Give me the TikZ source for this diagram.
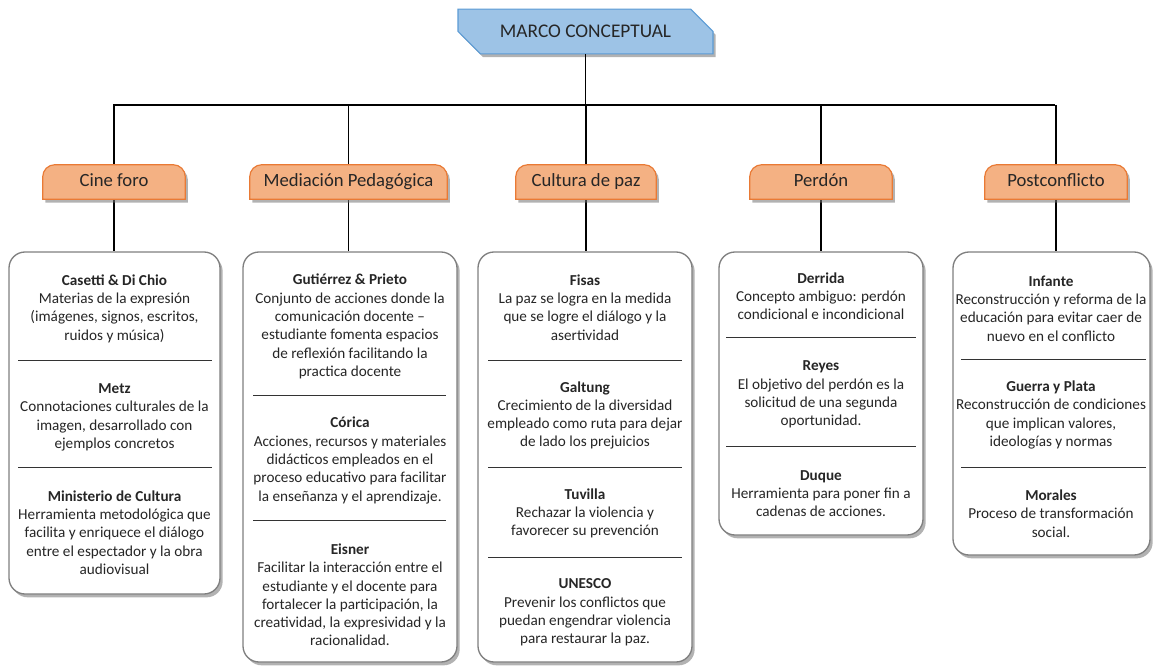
\documentclass[tikz,border=0pt]{standalone}
\usepackage{fontspec}
\setmainfont{Carlito}
\usetikzlibrary{shapes.misc,shadows,fit}
\definecolor{titlefill}{HTML}{9DC3E6}
\definecolor{titledraw}{HTML}{5B9BD5}
\definecolor{catfill}{HTML}{F4B183}
\definecolor{catdraw}{HTML}{E97A35}
\definecolor{boxdraw}{HTML}{7F7F7F}
\definecolor{txt}{HTML}{262626}
% tab outline: rounded top corners, square bottom
\newcommand\tabpath[1]{(#1.south west) -- ([yshift=-9pt]#1.north west)
  arc[start angle=180,end angle=90,radius=9pt] -- ([xshift=-9pt]#1.north east)
  arc[start angle=90,end angle=0,radius=9pt] -- (#1.south east) -- cycle}
\begin{document}
\begin{tikzpicture}[x=0.75pt,y=-0.75pt,
  shade/.style={drop shadow={shadow xshift=2pt,shadow yshift=-2.5pt,fill=black!55,opacity=0.55}},
  titlebox/.style={chamfered rectangle, chamfered rectangle corners={north east,south west},
    chamfered rectangle xsep=9pt, chamfered rectangle ysep=12pt,
    fill=titlefill, draw=titledraw, line width=0.8pt, text=txt, inner sep=0pt,
    font=\fontsize{14.5}{16}\selectfont, shade},
  tab/.style={inner sep=0pt, text=txt, font=\fontsize{14}{16}\selectfont},
  tablabel/.style={tab, text height=0.9em, text depth=0.18em},
  detail/.style={rounded corners=12pt, draw=boxdraw, line width=1pt, fill=white, inner sep=0pt, shade},
  entry/.style={align=center, inner sep=0pt, text=txt, font=\fontsize{11.4}{13.7}\selectfont},
  sep/.style={draw=black!80, line width=0.6pt},
  link/.style={draw=black, line width=1pt}]
\useasboundingbox (0,0) rectangle (1154,667);

% title
\node[titlebox, minimum width=255*0.75pt, minimum height=33*0.75pt] (top) at (585.5,31.5) {MARCO CONCEPTUAL};

% connector bar
\coordinate (hL) at (113,105);
\coordinate (hR) at (1055,105);

% category tabs
\node[tab, fit={(43,165) (185,199)}] (c1) {};
\node[tab, fit={(250,165) (447,199)}] (c2) {};
\node[tab, fit={(516,165) (656,199)}] (c3) {};
\node[tab, fit={(750,165) (892,199)}] (c4) {};
\node[tab, fit={(985,165) (1127,199)}] (c5) {};

% detail boxes
\node[detail, fit={(9,252) (220,594)}] (d1) {};
\node[detail, fit={(243,252) (457,662)}] (d2) {};
\node[detail, fit={(478,252) (692,662)}] (d3) {};
\node[detail, fit={(719,252) (923,535)}] (d4) {};
\node[detail, fit={(953,252) (1150,555)}] (d5) {};

% connectors
\draw[link] (top.south) -- (top.south |- hL);
\draw[link] (hL) -- (hR);
\foreach \c/\d in {c1/d1,c2/d2,c3/d3,c4/d4,c5/d5} {
  \draw[link] (\c.north |- hL) -- (\c.north);
  \draw[link] (\c.south) -- (\c.south |- \d.north);
}

% tab shapes and labels
\foreach \c/\t in {c1/Cine foro,c2/Mediación Pedagógica,c3/Cultura de paz,c4/Perdón,c5/Postconflicto} {
  \path[fill=catfill, draw=catdraw, line width=0.9pt, shade] \tabpath{\c};
  \node[tablabel] at (\c.center) {\t};
}

% Cine foro
\node[entry] (e11) at (114.5,308.5) {\textbf{Casetti \& Di Chio}\\Materias de la expresión\\(imágenes, signos, escritos,\\ruidos y música)};
\node[entry] (e12) at (114.5,417.5) {\textbf{Metz}\\Connotaciones culturales de la\\imagen, desarrollado con\\ejemplos concretos};
\node[entry] (e13) at (114.5,532.5) {\textbf{Ministerio de Cultura}\\Herramienta metodológica que\\facilita y enriquece el diálogo\\entre el espectador y la obra\\audiovisual};
\draw[sep] (18,360) -- (212,360);
\draw[sep] (18,467) -- (212,467);

% Mediación Pedagógica
\node[entry] (e21) at (350,326.5) {\textbf{Gutiérrez \& Prieto}\\Conjunto de acciones donde la\\comunicación docente –\\estudiante fomenta espacios\\de reflexión facilitando la\\practica docente};
\node[entry] (e22) at (350,460.5) {\textbf{Córica}\\Acciones, recursos y materiales\\didácticos empleados en el\\proceso educativo para facilitar\\la enseñanza y el aprendizaje.};
\node[entry] (e23) at (350,595) {\textbf{Eisner}\\Facilitar la interacción entre el\\estudiante y el docente para\\fortalecer la participación, la\\creatividad, la expresividad y la\\racionalidad.};
\draw[sep] (253,395) -- (446,395);
\draw[sep] (253,520) -- (446,520);

% Cultura de paz
\node[entry] (e31) at (585,307.5) {\textbf{Fisas}\\La paz se logra en la medida\\que se logre el diálogo y la\\asertividad};
\node[entry] (e32) at (585,415.5) {\textbf{Galtung}\\Crecimiento de la diversidad\\empleado como ruta para dejar\\de lado los prejuicios};
\node[entry] (e33) at (585,513.5) {\textbf{Tuvilla}\\Rechazar la violencia y\\favorecer su prevención};
\node[entry] (e34) at (585,612.5) {\textbf{UNESCO}\\Prevenir los conflictos que\\puedan engendrar violencia\\para restaurar la paz.};
\draw[sep] (488,360) -- (682,360);
\draw[sep] (488,467) -- (682,467);
\draw[sep] (488,557) -- (682,557);

% Perdón
\node[entry] (e41) at (821,296) {\textbf{Derrida}\\Concepto ambiguo: perdón\\condicional e incondicional};
\node[entry] (e42) at (821,394.5) {\textbf{Reyes}\\El objetivo del perdón es la\\solicitud de una segunda\\oportunidad.};
\node[entry] (e43) at (821,493.5) {\textbf{Duque}\\Herramienta para poner fin a\\cadenas de acciones.};
\draw[sep] (726,337) -- (916,337);
\draw[sep] (726,446) -- (916,446);

% Postconflicto
\node[entry] (e51) at (1051,308.5) {\textbf{Infante}\\Reconstrucción y reforma de la\\educación para evitar caer de\\nuevo en el conflicto};
\node[entry] (e52) at (1051,415) {\textbf{Guerra y Plata}\\Reconstrucción de condiciones\\que implican valores,\\ideologías y normas};
\node[entry] (e53) at (1051,513.5) {\textbf{Morales}\\Proceso de transformación\\social.};
\draw[sep] (961,359) -- (1146,359);
\draw[sep] (961,467) -- (1146,467);
\end{tikzpicture}
\end{document}
